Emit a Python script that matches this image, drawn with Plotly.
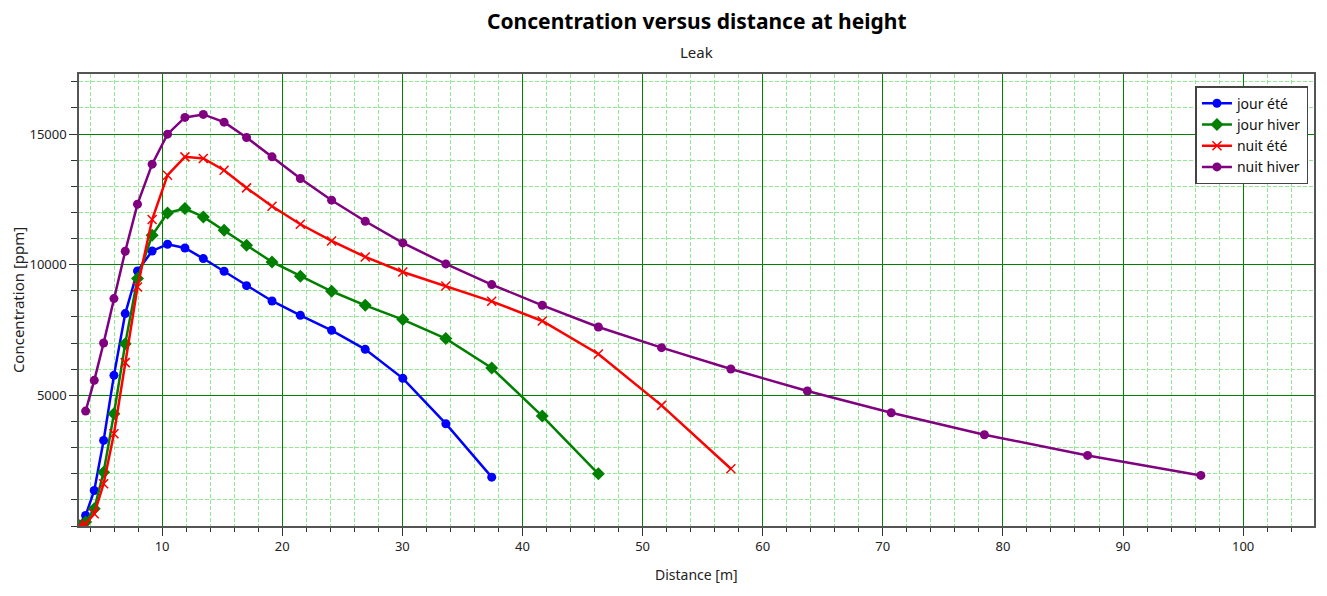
import plotly.graph_objects as go

# Distances [m]
x_main = [3.08, 3.63, 4.35, 5.13, 5.99, 6.93, 7.95, 9.17, 10.45, 11.9, 13.43, 15.16, 17.03,
          19.15, 21.51, 24.11, 26.91, 30.04, 33.62, 37.44]
x_green_extra = [41.65, 46.32]
x_red_extra = [41.65, 46.32, 51.58, 57.35]
x_purple = [3.63, 4.35, 5.13, 5.99, 6.93, 7.95, 9.17, 10.45, 11.9, 13.43, 15.16, 17.03,
            19.15, 21.51, 24.11, 26.91, 30.04, 33.62, 37.44, 41.65, 46.32, 51.58, 57.35,
            63.72, 70.70, 78.46, 87.05, 96.48]

# Concentrations [ppm]
jour_ete = [60, 400, 1360, 3275, 5766, 8129, 9761, 10527, 10784, 10642, 10236, 9750, 9200,
            8612, 8064, 7490, 6762, 5651, 3915, 1870]
jour_hiver = [20, 150, 659, 2061, 4298, 6980, 9470, 11129, 11983, 12152, 11830, 11321, 10746,
              10106, 9558, 8984, 8447, 7899, 7172, 6046, 4207, 1999]
nuit_ete = [10, 80, 467, 1617, 3532, 6252, 9149, 11730, 13428, 14129, 14067, 13619, 12941,
            12240, 11550, 10911, 10298, 9723, 9187, 8600, 7847, 6583, 4616, 2191]
nuit_hiver = [4398, 5574, 7003, 8704, 10516, 12317, 13849, 14998, 15638, 15753, 15458, 14871,
              14129, 13301, 12470, 11665, 10834, 10030, 9240, 8447, 7618, 6826, 6008,
              5166, 4336, 3494, 2701, 1935]

series_names = ["jour été", "jour hiver", "nuit été", "nuit hiver"]

FONT = "Noto Sans"

fig = go.Figure()
fig.add_trace(go.Scatter(x=x_main, y=jour_ete, name=series_names[0], mode="lines+markers",
                         line=dict(color="#0000FF", width=2.5),
                         marker=dict(symbol="circle", size=9, color="#0000FF")))
fig.add_trace(go.Scatter(x=x_main + x_green_extra, y=jour_hiver, name=series_names[1],
                         mode="lines+markers", line=dict(color="#008000", width=2.5),
                         marker=dict(symbol="diamond", size=10, color="#008000")))
fig.add_trace(go.Scatter(x=x_main + x_red_extra, y=nuit_ete, name=series_names[2],
                         mode="lines+markers", line=dict(color="#FF0000", width=2.5),
                         marker=dict(symbol="x-thin", size=9, color="#FF0000",
                                     line=dict(color="#FF0000", width=1.5))))
fig.add_trace(go.Scatter(x=x_purple, y=nuit_hiver, name=series_names[3], mode="lines+markers",
                         line=dict(color="#800080", width=2.5),
                         marker=dict(symbol="circle", size=9, color="#800080")))

axis_common = dict(
    showline=True, linecolor="#555555", linewidth=1.5, mirror=True,
    showgrid=True, gridcolor="#008000", gridwidth=1,
    zeroline=False, ticks="outside", ticklen=8, tickcolor="#333333",
    tickfont=dict(family=FONT, size=13, color="#222222"),
)

fig.update_xaxes(
    **axis_common, range=[3.08, 105.9], tickmode="linear", tick0=0, dtick=10,
    minor=dict(tickmode="linear", tick0=0, dtick=2, showgrid=True, gridcolor="#8FEA8F",
               griddash="4px,2px", gridwidth=1, ticks="outside", ticklen=4, tickcolor="#333333"),
)
fig.update_yaxes(
    **axis_common, range=[0, 17300], tickmode="array", tickvals=[5000, 10000, 15000],
    ticktext=["5000", "10000", "15000"],
    minor=dict(tickmode="linear", tick0=0, dtick=1000, showgrid=True, gridcolor="#8FEA8F",
               griddash="4px,2px", gridwidth=1, ticks="outside", ticklen=6, tickcolor="#333333"),
)

fig.update_layout(
    width=1327, height=596,
    margin=dict(l=79, r=11, t=74, b=70),
    paper_bgcolor="white", plot_bgcolor="white",
    font=dict(family=FONT, size=13, color="#222222"),
    showlegend=True,
    legend=dict(x=0.904, y=0.973, xanchor="left", yanchor="top",
                bgcolor="white", bordercolor="#444444", borderwidth=1.5,
                font=dict(family=FONT, size=14, color="#111111")),
    annotations=[
        dict(text="<b>Concentration versus distance at height</b>", xref="paper", yref="paper",
             x=0.5, y=1.117, xanchor="center", yanchor="middle", showarrow=False,
             font=dict(family=FONT, size=21, color="black")),
        dict(text="Leak", xref="paper", yref="paper", x=0.5, y=1.049, xanchor="center",
             yanchor="middle", showarrow=False, font=dict(family=FONT, size=15, color="#222222")),
        dict(text="Concentration [ppm]", xref="paper", yref="paper", x=-0.0493, y=0.5,
             xanchor="center", yanchor="middle", textangle=-90, showarrow=False,
             font=dict(family=FONT, size=15, color="#222222")),
        dict(text="Distance [m]", xref="paper", yref="paper", x=0.5, y=-0.108,
             xanchor="center", yanchor="middle", showarrow=False,
             font=dict(family=FONT, size=14, color="#222222")),
    ],
)

fig.write_html("out.html")
